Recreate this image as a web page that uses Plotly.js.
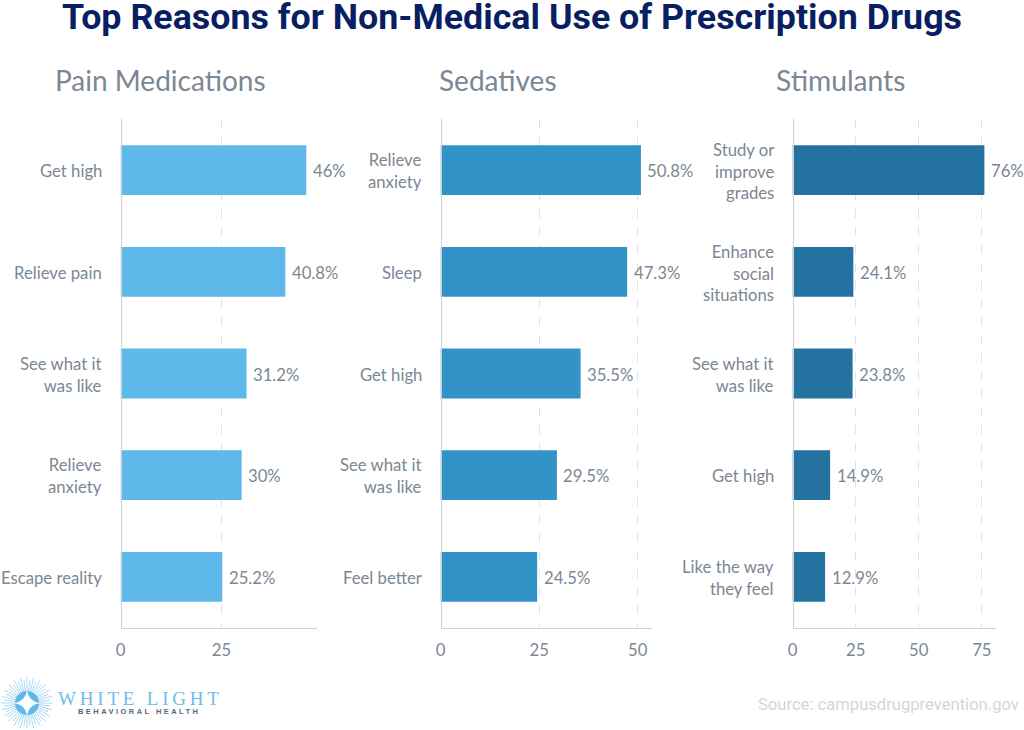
<!DOCTYPE html>
<html><head><meta charset="utf-8">
<script src="https://cdn.plot.ly/plotly-3.0.1.min.js"></script>
<style>
html,body{margin:0;padding:0;background:#fff}
.annotation[data-index="4"] text{letter-spacing:3.8px}
.annotation[data-index="5"] text{letter-spacing:2.45px}
</style></head><body>
<div id="chart" style="width:1024px;height:730px"></div>
<script>
const painCategories = ["Get high","Relieve pain","See what it<br>was like","Relieve<br>anxiety","Escape reality"];
const painValues = [46,40.8,31.2,30,25.2];
const sedativeCategories = ["Relieve<br>anxiety","Sleep","Get high","See what it<br>was like","Feel better"];
const sedativeValues = [50.8,47.3,35.5,29.5,24.5];
const stimulantCategories = ["Study or<br>improve<br>grades","Enhance<br>social<br>situations","See what it<br>was like","Get high","Like the way<br>they feel"];
const stimulantValues = [76,24.1,23.8,14.9,12.9];

const W=1024,H=730;
const px=x=>x/W, py=y=>1-y/H;
const textGrey="#7b8794", tickFont={family:"Lato",size:16.7,color:textGrey};
function bar(cats,vals,color,n){
  return {type:"bar",orientation:"h",x:vals,y:cats,xaxis:"x"+n,yaxis:"y"+n,width:0.49,
    marker:{color:color},cliponaxis:false,hoverinfo:"skip",showlegend:false};
}
function xa(l,r,range,vals){
  return {domain:[px(l),px(r)],range:range,tickvals:vals,ticktext:vals.map(String),anchor:"free",position:py(627.6),
    showline:true,linecolor:"#ccd0d6",linewidth:1.5,showgrid:true,griddash:"dash",gridcolor:"#dfe2e6",gridwidth:1,
    zeroline:false,ticks:"outside",ticklen:7,tickcolor:"rgba(0,0,0,0)",tickfont:tickFont,fixedrange:true};
}
function ya(cats,l){
  return {domain:[py(627.6),py(119.4)],range:[4.5,-0.5],type:"category",categoryorder:"array",categoryarray:cats,
    anchor:"free",position:px(l),showline:true,linecolor:"#ccd0d6",linewidth:1.5,showgrid:false,zeroline:false,
    ticks:"",showticklabels:false,fixedrange:true};
}
function note(text,x,y,xanchor,font){
  return {text,xref:"paper",yref:"paper",x:px(x),y:py(y),xanchor,yanchor:"middle",showarrow:false,font,borderpad:0,align:xanchor};
}
function valueNotes(cats,vals,n){
  return vals.map((v,i)=>({text:v+"%",xref:"x"+n,yref:"y"+n,x:v,y:cats[i],xanchor:"left",yanchor:"middle",xshift:5.5,yshift:-1.2,
    showarrow:false,font:tickFont,borderpad:0}));
}
function categoryNotes(cats,n){
  return cats.map(c=>({text:c,xref:"x"+n,yref:"y"+n,x:0,y:c,xanchor:"right",yanchor:"middle",align:"right",xshift:-17.5,yshift:-1.2,
    showarrow:false,font:tickFont,borderpad:0}));
}
// decorative logo mark
let rays="";
for(let i=0;i<48;i++){const a=i*Math.PI/24,r0=9,r1=(i%2?23:26);
  rays+=`M${px(27+r0*Math.cos(a))},${py(703+r0*Math.sin(a))}L${px(27+r1*Math.cos(a))},${py(703+r1*Math.sin(a))}`;}
const pt=(x,y)=>px(27+x)+","+py(703+y);
const star=`M${pt(0,-13)}Q${pt(1.5,-1.5)} ${pt(13,0)}Q${pt(1.5,1.5)} ${pt(0,13)}Q${pt(-1.5,1.5)} ${pt(-13,0)}Q${pt(-1.5,-1.5)} ${pt(0,-13)}Z`;
const layout={width:W,height:H,margin:{l:0,r:0,t:0,b:0},paper_bgcolor:"#fff",plot_bgcolor:"rgba(0,0,0,0)",
  xaxis1:xa(120.5,317,[0,48.65],[0,25]),yaxis1:ya(painCategories,120.5),
  xaxis2:xa(440.5,652,[0,53.6],[0,25,50]),yaxis2:ya(sedativeCategories,440.5),
  xaxis3:xa(792.5,996,[0,80.6],[0,25,50,75]),yaxis3:ya(stimulantCategories,792.5),
  shapes:[
    {type:"path",xref:"paper",yref:"paper",path:rays,line:{color:"#a9d8f2",width:1}},
    {type:"circle",xref:"paper",yref:"paper",x0:px(15),x1:px(39),y0:py(715),y1:py(691),fillcolor:"#5eb8ea",line:{width:0}},
    {type:"path",xref:"paper",yref:"paper",path:star,fillcolor:"#fff",line:{width:0}}
  ],
  annotations:[
    note("Top Reasons for Non-Medical Use of Prescription Drugs",512,17.5,"center",{family:"Roboto",size:35.8,color:"#0a1f63",weight:700}),
    note("Pain Medications",53.5,80,"left",{family:"Lato",size:28,color:textGrey}),
    note("Sedatives",437.5,80,"left",{family:"Lato",size:28,color:textGrey}),
    note("Stimulants",774.5,80,"left",{family:"Lato",size:28.2,color:textGrey}),
    note("WHITE LIGHT",57,698,"left",{family:"Liberation Serif",size:19,color:"#6fbde8"}),
    note("BEHAVIORAL HEALTH",77,711.5,"left",{family:"Liberation Sans",size:7.5,color:"#5d6673",weight:700}),
    note("Source: campusdrugprevention.gov",1020,704,"right",{family:"Roboto",size:16.6,color:"#d3d6db"}),
    ...categoryNotes(painCategories,1),
    ...categoryNotes(sedativeCategories,2),
    ...categoryNotes(stimulantCategories,3),
    ...valueNotes(painCategories,painValues,1),
    ...valueNotes(sedativeCategories,sedativeValues,2),
    ...valueNotes(stimulantCategories,stimulantValues,3)
  ]};
Plotly.newPlot("chart",[bar(painCategories,painValues,"#5eb8ea",1),bar(sedativeCategories,sedativeValues,"#3293c9",2),bar(stimulantCategories,stimulantValues,"#24729f",3)],layout,{displayModeBar:false,staticPlot:true});
</script></body></html>
